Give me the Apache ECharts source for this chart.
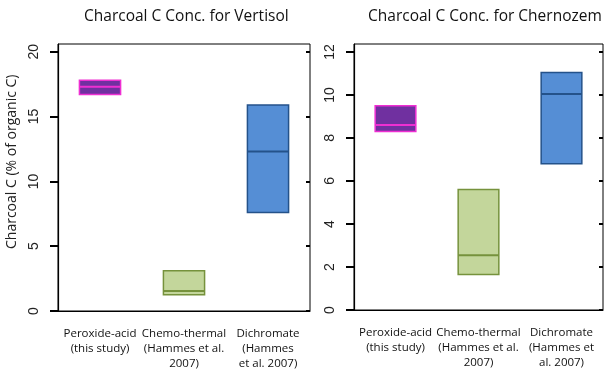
<!DOCTYPE html>
<html>
<head>
<meta charset="utf-8">
<script src="https://cdn.jsdelivr.net/npm/echarts@6/dist/echarts.min.js"></script>
<style>
  html, body { margin: 0; padding: 0; background: #fff; }
  #chart { width: 605px; height: 383px; }
</style>
</head>
<body>
<div id="chart"></div>
<script>
// categories (wrapping differs a bit between the two panels)
var leftCats = ['Peroxide-acid\n(this study)', 'Chemo-thermal\n(Hammes et al.\n2007)', 'Dichromate\n(Hammes\net al. 2007)'];
var rightCats = ['Peroxide-acid\n(this study)', 'Chemo-thermal\n(Hammes et al.\n2007)', 'Dichromate\n(Hammes et\nal. 2007)'];

// Vertisol: low / median / high
var vertLow = [16.7, 1.25, 7.6];
var vertMed = [17.3, 1.55, 12.3];
var vertHigh = [17.8, 3.1, 15.9];

// Chernozem: low / median / high
var chernLow = [8.3, 1.65, 6.8];
var chernMed = [8.6, 2.55, 10.05];
var chernHigh = [9.5, 5.6, 11.05];

var leftTicks = [0, 5, 10, 15, 20];
var rightTicks = [0, 2, 4, 6, 8, 10, 12];

var fills = ['#7030A0', '#C3D69B', '#558ED5'];
var strokes = ['#EE2FD2', '#76923C', '#24528A'];

function boxData(lo, md, hi) {
	var out = [];
	for (var i = 0; i < lo.length; i++) {
		out.push([i, lo[i], md[i], hi[i]]);
	}
	return out;
}

function renderBox(params, api) {
	var i = api.value(0);
	var lo = api.coord([i, api.value(1)]);
	var md = api.coord([i, api.value(2)]);
	var hi = api.coord([i, api.value(3)]);
	var w = api.size([1, 0])[0] * 0.49;
	var x0 = lo[0] - w / 2;
	return {
		type: 'group',
		children: [
			{ type: 'rect', shape: { x: x0, y: hi[1], width: w, height: lo[1] - hi[1] },
			  style: { fill: fills[i], stroke: strokes[i], lineWidth: 1.5 } },
			{ type: 'line', shape: { x1: x0, y1: md[1], x2: x0 + w, y2: md[1] },
			  style: { stroke: strokes[i], lineWidth: 2 } }
		]
	};
}

var font = '"Open Sans", sans-serif';

function xAxisCfg(idx, cats) {
	return {
		type: 'category', gridIndex: idx, data: cats,
		axisLine: { lineStyle: { color: '#000', width: 1 } },
		axisTick: { show: false },
		axisLabel: { color: '#111', fontFamily: font, fontSize: 11.5, lineHeight: 15, margin: 15, interval: 0 }
	};
}

function yAxisCfg(idx, max, ticks) {
	return {
		type: 'value', gridIndex: idx, min: 0, max: max,
		axisLine: { show: true, lineStyle: { color: '#000', width: 1.2 } },
		axisTick: { show: true, length: 8, customValues: ticks, lineStyle: { color: '#000', width: 2 } },
		axisLabel: { customValues: ticks, rotate: 90, color: '#222', fontFamily: '"Liberation Sans", sans-serif', fontSize: 14, margin: 17 },
		splitLine: { show: false }
	};
}

// second axis on each panel, only for the short inner part of the ticks
function innerTickCfg(idx, max, ticks) {
	return {
		type: 'value', gridIndex: idx, min: 0, max: max,
		axisLine: { show: false },
		axisTick: { show: true, inside: true, length: 4, customValues: ticks, lineStyle: { color: '#000', width: 2 } },
		axisLabel: { show: false },
		splitLine: { show: false }
	};
}

var myChart = echarts.init(document.getElementById('chart'));
var option = {
	animation: false,
	backgroundColor: '#fff',
	grid: [
		{ left: 58, right: 295, top: 44, bottom: 72, show: true, borderColor: '#000', borderWidth: 1 },
		{ left: 354, right: 2, top: 44, bottom: 73, show: true, borderColor: '#000', borderWidth: 1 }
	],
	xAxis: [xAxisCfg(0, leftCats), xAxisCfg(1, rightCats)],
	yAxis: [
		yAxisCfg(0, 20.6, leftTicks), yAxisCfg(1, 12.37, rightTicks),
		innerTickCfg(0, 20.6, leftTicks), innerTickCfg(1, 12.37, rightTicks)
	],
	graphic: [
		{ type: 'text', left: 84, top: 9, style: { text: 'Charcoal C Conc. for Vertisol', font: '15.5px ' + font, fill: '#111' } },
		{ type: 'text', left: 368, top: 9, style: { text: 'Charcoal C Conc. for Chernozem', font: '15.5px ' + font, fill: '#111' } },
		{ type: 'text', x: 5, y: 249, rotation: Math.PI / 2, style: { text: 'Charcoal C (% of organic C)', font: '14px ' + font, fill: '#222' } }
	],
	series: [
		{ type: 'custom', xAxisIndex: 0, yAxisIndex: 0, renderItem: renderBox, data: boxData(vertLow, vertMed, vertHigh) },
		{ type: 'custom', xAxisIndex: 1, yAxisIndex: 1, renderItem: renderBox, data: boxData(chernLow, chernMed, chernHigh) }
	]
};
myChart.setOption(option);
</script>
</body>
</html>
